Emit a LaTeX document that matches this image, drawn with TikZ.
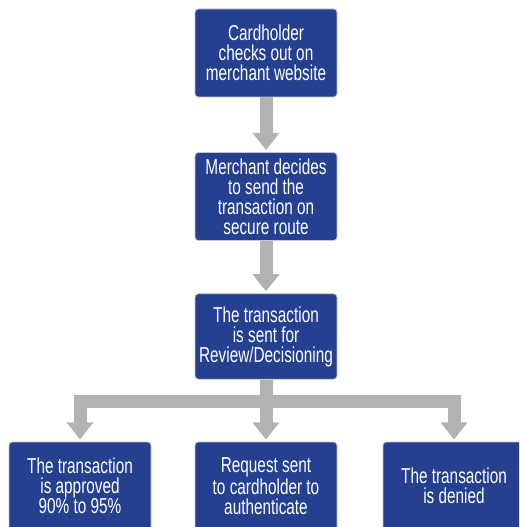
\documentclass[tikz,border=0pt]{standalone}
\usepackage{fontspec}
\setmainfont{Liberation Sans}[FakeStretch=0.71]
\usetikzlibrary{arrows.meta, positioning}
\definecolor{boxblue}{RGB}{37,64,143}
\definecolor{arrowgray}{RGB}{178,178,178}

\begin{document}
\begin{tikzpicture}[x=0.75pt, y=-0.75pt,
  flowbox/.style={draw=gray!45, line width=0.6pt, fill=boxblue, rounded corners=2.5pt,
    minimum width=106.5pt, minimum height=66pt, inner sep=0pt,
    text=white, align=center, font=\fontsize{16.2}{15}\selectfont},
  flowarrow/.style={draw=arrowgray, line width=9.75pt,
    -{Triangle[width=19.5pt,length=13pt]}, shorten >=1.5pt}]

  % page frame (bottom row runs off the edge)
  \path[use as bounding box, clip] (0,0) rectangle (519,527);

  % main chain
  \node[flowbox] (checkout) at (266,53) {Cardholder\\checks out on\\merchant website};
  \node[flowbox] (decide) at (266,196.5) {Merchant decides\\to send the\\transaction on\\secure route};
  \node[flowbox, minimum height=64pt] (review) at (266,336.5) {The transaction\\is sent for\\Review/Decisioning};

  \draw[flowarrow] (checkout.south) -- (decide.north);
  \draw[flowarrow] (decide.south) -- (review.north);

  % three outcomes
  \node[flowbox] (approved) at (80,486) {The transaction\\is approved\\90\% to 95\%};
  \node[flowbox] (authenticate) at (266,486) {Request sent\\to cardholder to\\authenticate};
  \node[flowbox] (denied) at (454,486) {The transaction\\is denied};

  \coordinate (split) at (266,401);
  \draw[flowarrow] (review.south) -- (split) -| (approved.north);
  \draw[flowarrow] (review.south) -- (split) -| (denied.north);
  \draw[flowarrow] (review.south) -- (authenticate.north);

\end{tikzpicture}
\end{document}
